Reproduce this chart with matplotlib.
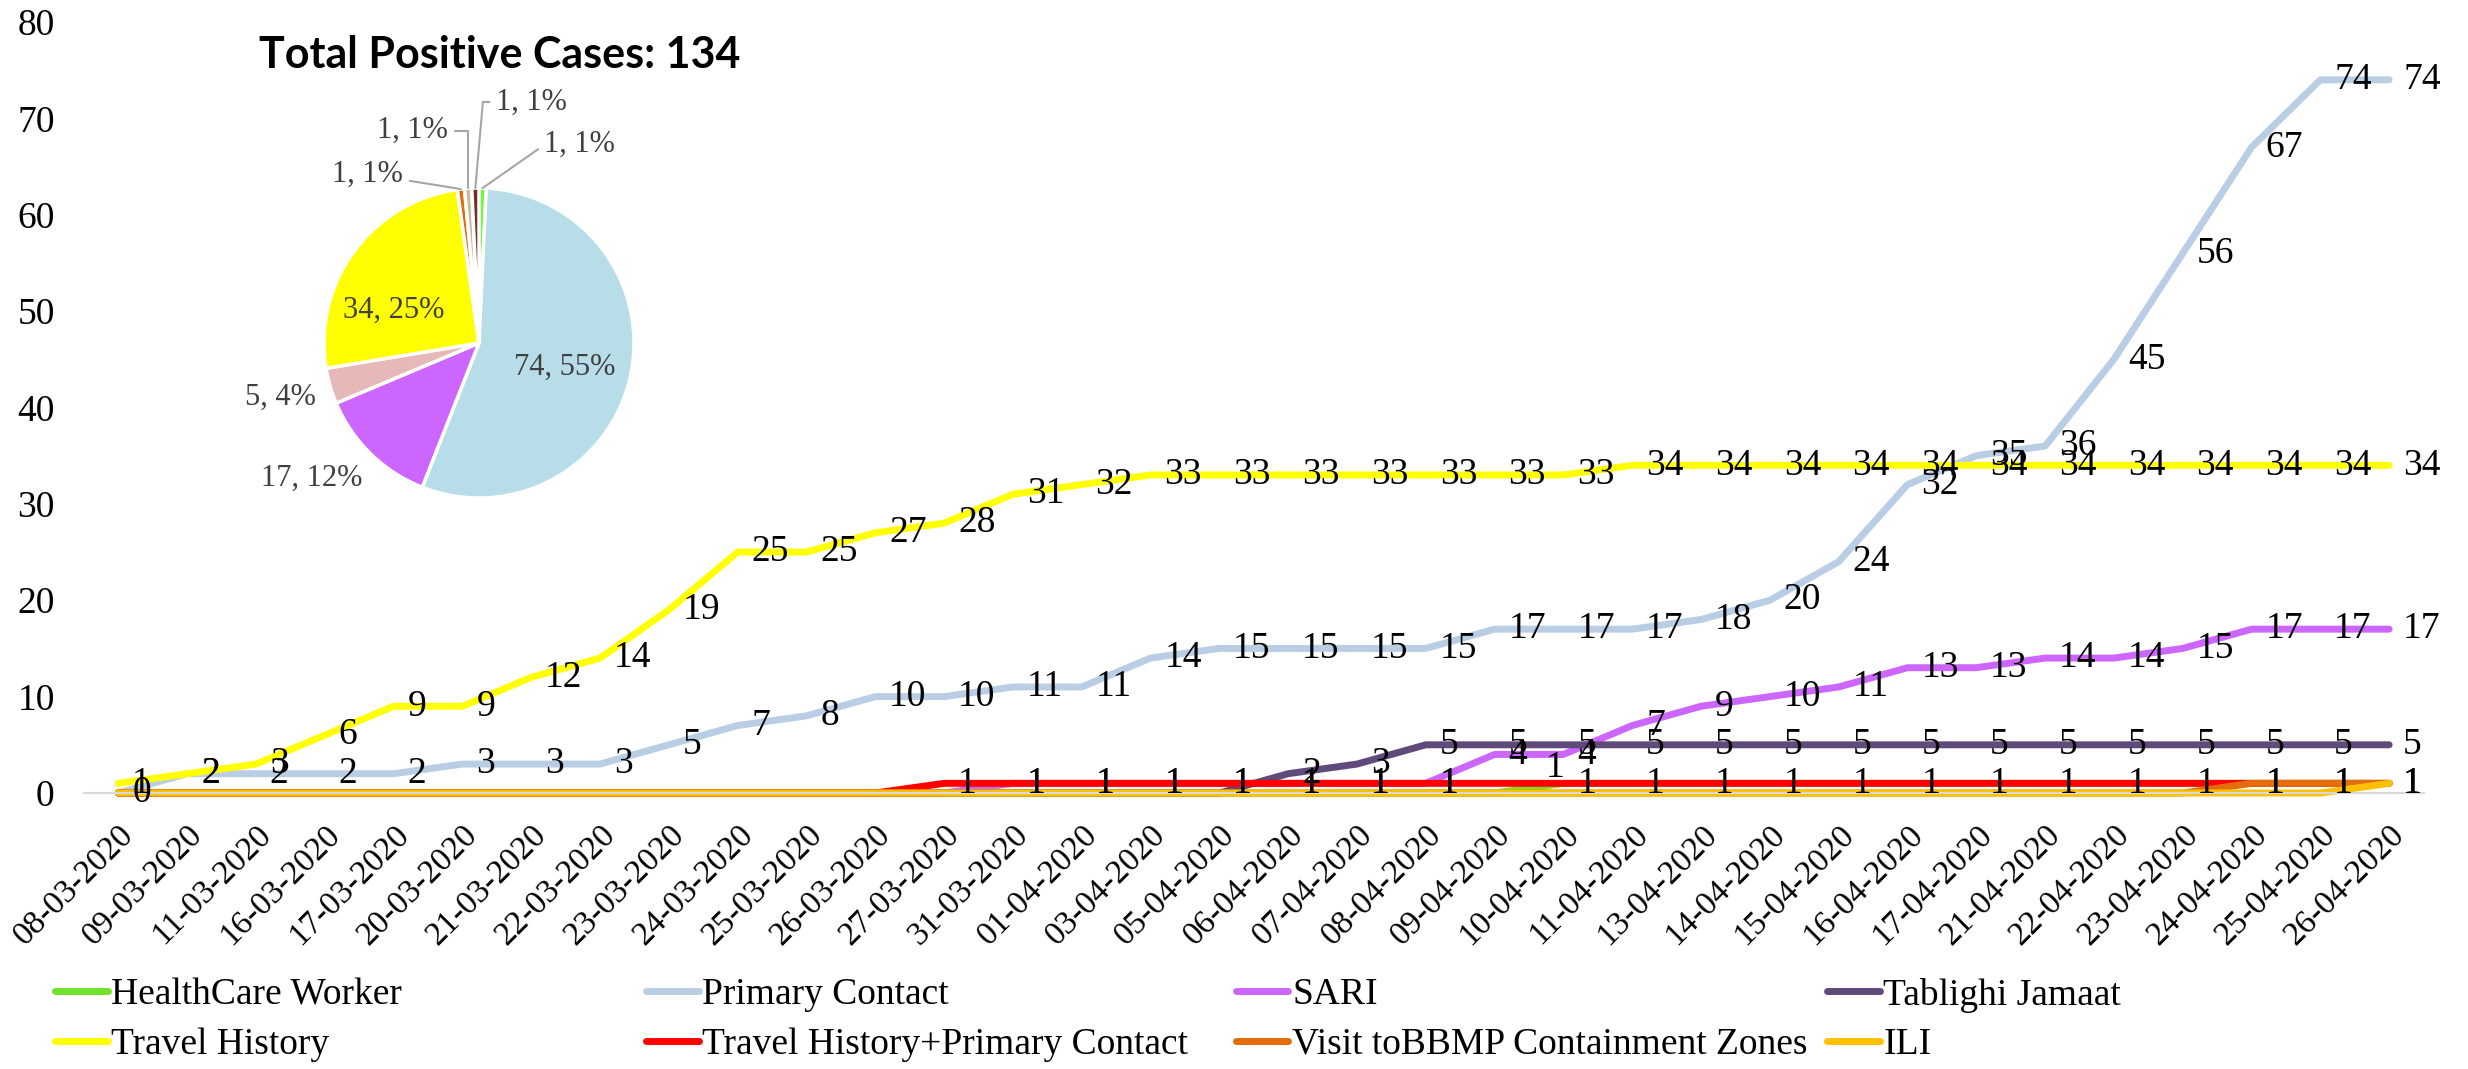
import matplotlib
matplotlib.use("Agg")
import matplotlib.pyplot as plt
import numpy as np

plt.rcParams['font.family'] = ['Liberation Serif', 'DejaVu Serif']

dates = ['08-03-2020', '09-03-2020', '11-03-2020', '16-03-2020', '17-03-2020', '20-03-2020',
         '21-03-2020', '22-03-2020', '23-03-2020', '24-03-2020', '25-03-2020', '26-03-2020',
         '27-03-2020', '31-03-2020', '01-04-2020', '03-04-2020', '05-04-2020', '06-04-2020',
         '07-04-2020', '08-04-2020', '09-04-2020', '10-04-2020', '11-04-2020', '13-04-2020',
         '14-04-2020', '15-04-2020', '16-04-2020', '17-04-2020', '21-04-2020', '22-04-2020',
         '23-04-2020', '24-04-2020', '25-04-2020', '26-04-2020']

healthcare_worker = [0, 0, 0, 0, 0, 0, 0, 0, 0, 0, 0, 0, 0, 0, 0, 0, 0, 0, 0, 0, 0,
                     1, 1, 1, 1, 1, 1, 1, 1, 1, 1, 1, 1, 1]
primary_contact = [0, 2, 2, 2, 2, 3, 3, 3, 5, 7, 8, 10, 10, 11, 11, 14, 15, 15, 15, 15,
                   17, 17, 17, 18, 20, 24, 32, 35, 36, 45, 56, 67, 74, 74]
sari = [0, 0, 0, 0, 0, 0, 0, 0, 0, 0, 0, 0, 0, 1, 1, 1, 1, 1, 1, 1,
        4, 4, 7, 9, 10, 11, 13, 13, 14, 14, 15, 17, 17, 17]
tablighi = [0, 0, 0, 0, 0, 0, 0, 0, 0, 0, 0, 0, 0, 0, 0, 0, 0, 2, 3, 5,
            5, 5, 5, 5, 5, 5, 5, 5, 5, 5, 5, 5, 5, 5]
travel_history = [1, 2, 3, 6, 9, 9, 12, 14, 19, 25, 25, 27, 28, 31, 32, 33, 33, 33, 33, 33,
                  33, 33, 34, 34, 34, 34, 34, 34, 34, 34, 34, 34, 34, 34]
travel_primary = [0, 0, 0, 0, 0, 0, 0, 0, 0, 0, 0, 0, 1, 1, 1, 1, 1, 1, 1, 1,
                  1, 1, 1, 1, 1, 1, 1, 1, 1, 1, 1, 1, 1, 1]
visit_bbmp = [0, 0, 0, 0, 0, 0, 0, 0, 0, 0, 0, 0, 0, 0, 0, 0, 0, 0, 0, 0,
              0, 0, 0, 0, 0, 0, 0, 0, 0, 0, 0, 1, 1, 1]
ili = [0, 0, 0, 0, 0, 0, 0, 0, 0, 0, 0, 0, 0, 0, 0, 0, 0, 0, 0, 0,
       0, 0, 0, 0, 0, 0, 0, 0, 0, 0, 0, 0, 0, 1]

names = ['HealthCare Worker', 'Primary Contact', 'SARI', 'Tablighi Jamaat',
         'Travel History', 'Travel History+Primary Contact', 'Visit toBBMP Containment Zones', 'ILI']
series = [healthcare_worker, primary_contact, sari, tablighi,
          travel_history, travel_primary, visit_bbmp, ili]
line_colors = ['#6FE32B', '#B9CDE5', '#CC66FF', '#604A7B', '#FFFF00', '#FF0000', '#E46C0A', '#FFC000']
pie_colors = ['#66FF33', '#B7DEE8', '#CC66FF', '#E6B9B8', '#FFFF00', '#E46C0A', '#C4BD97', '#772C2A']

fig = plt.figure(figsize=(24.68, 10.69), dpi=100)
ax = fig.add_axes([0.034, 0.2582, 0.948, 0.7212])

x = np.arange(len(dates))
handles = []
for name, vals, col in zip(names, series, line_colors):
    ln, = ax.plot(x, vals, color=col, lw=5, solid_capstyle='round',
                  solid_joinstyle='round', clip_on=False, label=name)
    handles.append(ln)

# data labels (zeros hidden, except primary contact)
for name, vals in zip(names, series):
    for i, v in enumerate(vals):
        if name == 'HealthCare Worker':
            continue
        if v == 0 and name != 'Primary Contact':
            continue
        if name == 'Travel History+Primary Contact' and i == 20:
            continue
        ax.annotate(str(v), (i, v), xytext=(10, 0), textcoords='offset points',
                    ha='left', va='center', fontsize=27, color='black')
# healthcare worker: single label above its first case
first = healthcare_worker.index(1)
ax.annotate(str(healthcare_worker[first]), (first, healthcare_worker[first]), xytext=(-6, -1),
            textcoords='offset points', ha='center', va='bottom', fontsize=27)

ax.set_xlim(-0.5, len(dates) - 0.5)
ax.set_ylim(0, 80)
ax.set_yticks(range(0, 81, 10))
ax.tick_params(axis='y', length=0, pad=21, labelsize=27)
ax.set_xticks(x)
ax.set_xticklabels(dates, rotation=45, ha='right', va='top', rotation_mode='anchor', fontsize=24)
ax.tick_params(axis='x', length=0, pad=19)
for s in ['top', 'right', 'left']:
    ax.spines[s].set_visible(False)
ax.spines['bottom'].set_color('#D9D9D9')
ax.spines['bottom'].set_linewidth(1.5)

# legend, 4 equal columns
col_x = [0.0223, 0.2618, 0.5008, 0.7403]
for k in range(4):
    fig.legend([handles[k], handles[k + 4]], [names[k], names[k + 4]], loc='center left',
               bbox_to_anchor=(col_x[k], 0.046), frameon=False, fontsize=27,
               handlelength=1.4, handletextpad=0.1, labelspacing=0.4,
               borderpad=0, borderaxespad=0)

# pie of totals
pie_values = [s[-1] for s in series]
total = sum(pie_values)
raw = [v / total * 100 for v in pie_values]
pct = [int(r) for r in raw]
order = sorted(range(len(raw)), key=lambda j: raw[j] - pct[j], reverse=True)
for j in order[:100 - sum(pct)]:
    pct[j] += 1

pax = fig.add_axes([(479 - 300) / 2468, (1069 - 343 - 300) / 1069, 600 / 2468, 600 / 1069])
wedges, _ = pax.pie(pie_values, colors=pie_colors, startangle=90, counterclock=False,
                    radius=1, wedgeprops=dict(edgecolor='white', linewidth=2.5))
lim = 300 / 155
pax.set_xlim(-lim, lim)
pax.set_ylim(-lim, lim)
pax.axis('off')

label_pos = [(0.65, 1.28), (0.55, -0.16), (-1.08, -0.87), (-1.28, -0.35),
             (-0.55, 0.21), (-0.72, 1.09), (-0.43, 1.37), (0.34, 1.555)]
leader = {0: 'angle,angleA=0,angleB=35', 5: 'arc3,rad=0',
          6: 'angle,angleA=0,angleB=90', 7: 'angle,angleA=0,angleB=85'}
for j, (w, v, p) in enumerate(zip(wedges, pie_values, pct)):
    txt = f'{v}, {p}%'
    if j in leader:
        mid = np.deg2rad((w.theta1 + w.theta2) / 2)
        pax.annotate(txt, (np.cos(mid), np.sin(mid)), xytext=label_pos[j], ha='center', va='center',
                     fontsize=22, color='#404040',
                     arrowprops=dict(arrowstyle='-', color='#A6A6A6', lw=1.5,
                                     connectionstyle=leader[j], shrinkA=3, shrinkB=0))
    else:
        pax.text(label_pos[j][0], label_pos[j][1], txt, ha='center', va='center',
                 fontsize=22, color='#404040')

fig.text(500 / 2468, 1 - 55 / 1069, f'Total Positive Cases: {total}', ha='center', va='center',
         fontsize=31, fontweight='bold', family=['Liberation Sans Narrow', 'Lato', 'DejaVu Sans'])

fig.savefig('out.png', dpi=100)
